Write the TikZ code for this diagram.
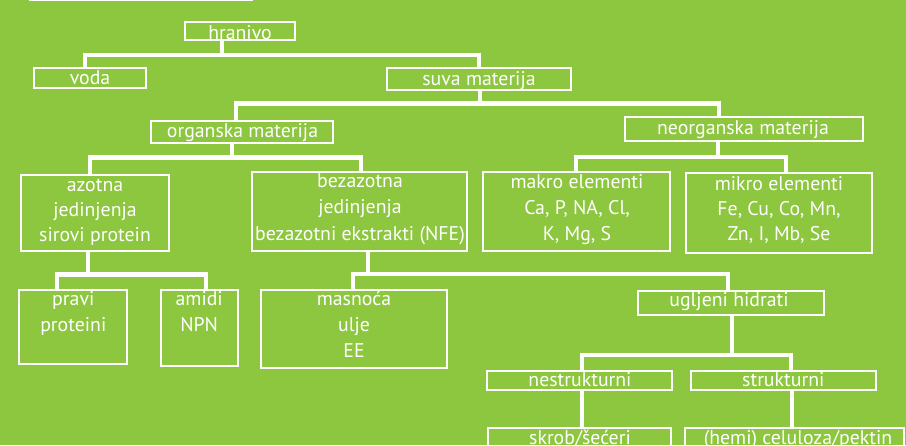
\documentclass[tikz,border=0pt]{standalone}
\usepackage{fontspec}
\setmainfont{PT Sans}
\usetikzlibrary{fit}
\definecolor{bg}{HTML}{8DC63F}
\begin{document}
\begin{tikzpicture}[x=1pt,y=-1pt,
  box/.style={draw=white, line width=2.2pt, inner sep=0pt, rectangle},
  conn/.style={draw=white, line width=4.6pt, line join=miter},
  tx/.style={text=white, anchor=base, inner sep=0pt, font=\fontsize{19.8}{23}\selectfont}]
\fill[bg] (0,0) rectangle (906,445);
\useasboundingbox (0,0) rectangle (906,445);
\clip (0,0) rectangle (906,445);
\fill[white] (29,0) rectangle (253,1.3);
% boxes
\node[box, fit={(185,22) (295,40)}] (hranivo) {};
\node[box, fit={(34,68) (146,88)}] (voda) {};
\node[box, fit={(387,68) (571,90)}] (suva) {};
\node[box, fit={(151,121) (333,143)}] (organska) {};
\node[box, fit={(625,117) (863,141)}] (neorganska) {};
\node[box, fit={(21,175) (169,251)}] (azotna) {};
\node[box, fit={(252,172) (467,251)}] (bezazotna) {};
\node[box, fit={(483,172) (670,251)}] (makro) {};
\node[box, fit={(686,173) (872,253)}] (mikro) {};
\node[box, fit={(19,290) (127,364)}] (pravi) {};
\node[box, fit={(161,290) (238,366)}] (amidi) {};
\node[box, fit={(261,290) (447,368)}] (masnoca) {};
\node[box, fit={(638,291) (824,315)}] (ugljeni) {};
\node[box, fit={(487,371) (672,390)}] (nestr) {};
\node[box, fit={(691,371) (876,390)}] (str) {};
\node[box, fit={(488,428) (671,470)}] (skrob) {};
\node[box, fit={(685,428) (904,470)}] (hemi) {};
% connectors
\coordinate (j1) at (222,55);
\draw[conn] (j1 |- hranivo.south) -- (j1);
\draw[conn] (85,0 |- voda.north) |- (j1) -| (479,0 |- suva.north);
\coordinate (j2) at (480,103.5);
\draw[conn] (j2 |- suva.south) -- (j2);
\draw[conn] (236,0 |- organska.north) |- (j2) -| (719,0 |- neorganska.north);
\coordinate (j3) at (232,157.5);
\draw[conn] (j3 |- organska.south) -- (j3);
\draw[conn] (90,0 |- azotna.north) |- (j3) -| (361,0 |- bezazotna.north);
\coordinate (j4) at (718,157);
\draw[conn] (j4 |- neorganska.south) -- (j4);
\draw[conn] (576,0 |- makro.north) |- (j4) -| (786,0 |- mikro.north);
\coordinate (j5) at (88,274.5);
\draw[conn] (j5 |- azotna.south) -- (j5);
\draw[conn] (57,0 |- pravi.north) |- (j5) -| (206,0 |- amidi.north);
\coordinate (j6) at (368,274);
\draw[conn] (j6 |- bezazotna.south) -- (j6);
\draw[conn] (353,0 |- masnoca.north) |- (j6) -| (728,0 |- ugljeni.north);
\coordinate (j7) at (732,355);
\draw[conn] (j7 |- ugljeni.south) -- (j7);
\draw[conn] (582,0 |- nestr.north) |- (j7) -| (791,0 |- str.north);
\draw[conn] (582,0 |- nestr.south) -- (582,0 |- skrob.north);
\draw[conn] (792,0 |- str.south) -- (792,0 |- hemi.north);
% texts
\node[tx] (t1) at (240,39.3) {hranivo};
\node[tx] (t2) at (90,84.5) {voda};
\node[tx] (t3) at (479,85) {suva materija};
\node[tx] (t4) at (242.5,137.5) {organska materija};
\node[tx] (t5) at (743,134) {neorganska materija};
\node[tx] (t6a) at (95,191.5) {azotna};
\node[tx] (t6b) at (95,216.5) {jedinjenja};
\node[tx] (t6c) at (95,241.5) {sirovi protein};
\node[tx] (t7a) at (360,187) {bezazotna};
\node[tx] (t7b) at (360,213) {jedinjenja};
\node[tx] (t7c) at (360,240) {bezazotni ekstrakti (NFE)};
\node[tx] (t8a) at (577,188) {makro elementi};
\node[tx] (t8b) at (577,214.5) {Ca, P, NA, Cl,};
\node[tx] (t8c) at (577,240) {K, Mg, S};
\node[tx] (t9a) at (779,190.5) {mikro elementi};
\node[tx] (t9b) at (779,215) {Fe, Cu, Co, Mn,};
\node[tx] (t9c) at (779,240.5) {Zn, I, Mb, Se};
\node[tx] (t10a) at (73.3,305.7) {pravi};
\node[tx] (t10b) at (73.3,331.7) {proteini};
\node[tx] (t11a) at (199.2,305.7) {amidi};
\node[tx] (t11b) at (199.2,331.7) {NPN};
\node[tx] (t12a) at (354,305.7) {masnoća};
\node[tx] (t12b) at (354,331.7) {ulje};
\node[tx] (t12c) at (354,357.3) {EE};
\node[tx] (t13) at (729,306) {ugljeni hidrati};
\node[tx] (t14) at (580,386.7) {nestrukturni};
\node[tx] (t15) at (783.3,386.7) {strukturni};
\node[tx] (t16) at (580,444) {skrob/šećeri};
\node[tx] (t17) at (798,444) {(hemi) celuloza/pektin};
\end{tikzpicture}
\end{document}
